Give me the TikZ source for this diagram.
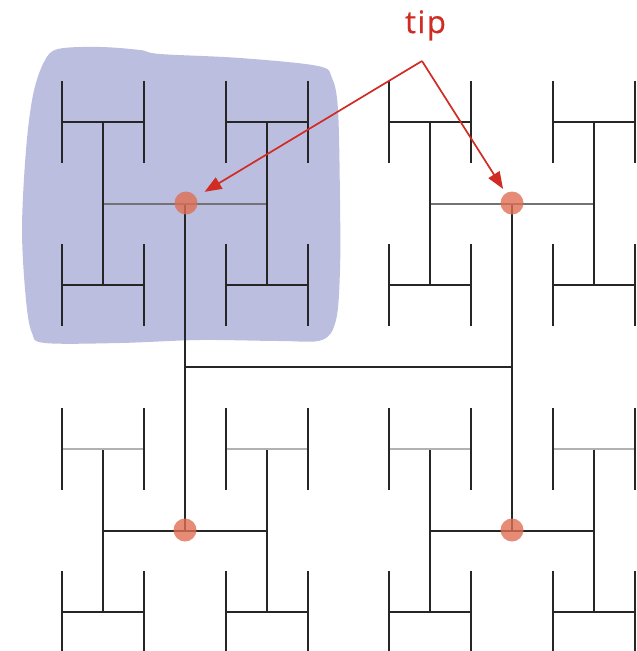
\documentclass[tikz,border=0pt]{standalone}
\usepackage{fontspec}
\newfontfamily\tipfont{Open Sans}[LetterSpace=5, FakeBold=0.6]
\usetikzlibrary{arrows.meta}

\definecolor{blobblue}{RGB}{187,190,222}
\definecolor{tipred}{RGB}{208,44,36}
\definecolor{dotorange}{RGB}{222,110,84}

\begin{document}
\begin{tikzpicture}[x=1pt, y=-1pt,
	hline/.style={line width=2pt, black!85},
	tipdot/.style={circle, fill=dotorange, opacity=0.8, minimum size=23pt, inner sep=0pt},
	pointer/.style={tipred, line width=1.7pt, -{Triangle[length=17pt,width=13pt]}}]

\useasboundingbox (0,0) rectangle (637,651);

% shaded subtree
\fill[blobblue] plot[smooth cycle, tension=0.55] coordinates {
	(58,49) (100,47) (140,50) (160,54) (240,58) (318,66) (332,78) (338,110)
	(340,200) (340,270) (336,320) (322,340) (280,341) (200,340) (120,343)
	(45,343) (32,333) (26,300) (22,230) (26,150) (33,95) (44,62)};

% level 1
\draw[hline] (185,367) -- (512,367);
\draw[hline] (185,203.5) -- (185,530.5);
\draw[hline] (512,203.5) -- (512,530.5);

% level 2 and 3
\foreach \i in {-1,1}
\foreach \j in {-1,1} {
	\pgfmathsetmacro\cx{348.5+\i*163.5}
	\pgfmathsetmacro\cy{367+\j*163.5}
	\pgfmathtruncatemacro\shade{\j<0 ? 55 : 85}
	\draw[hline, black!\shade] (\cx-81.75,\cy) -- (\cx+81.75,\cy);
	\draw[hline] (\cx-81.75,\cy-81.75) -- (\cx-81.75,\cy+81.75);
	\draw[hline] (\cx+81.75,\cy-81.75) -- (\cx+81.75,\cy+81.75);
	\foreach \k in {-1,1}
	\foreach \l in {-1,1} {
		\pgfmathsetmacro\dx{\cx+\k*81.75}
		\pgfmathsetmacro\dy{\cy+\l*81.75}
		\pgfmathtruncatemacro\lite{(\j>0 && \l<0) ? 30 : 85}
		\draw[hline, black!\lite] (\dx-40.9,\dy) -- (\dx+40.9,\dy);
		\draw[hline] (\dx-40.9,\dy-40.9) -- (\dx-40.9,\dy+40.9);
		\draw[hline] (\dx+40.9,\dy-40.9) -- (\dx+40.9,\dy+40.9);
	}
}

\node[tipdot] (tip nw) at (186,203) {};
\node[tipdot] (tip ne) at (512,203) {};
\node[tipdot] (tip sw) at (185,530) {};
\node[tipdot] (tip se) at (512,530) {};

\node[text=tipred, font=\tipfont\fontsize{31}{33}\selectfont, anchor=base] (tip label) at (425.5,33) {tip};
\coordinate (apex) at (422,61);

\path[pointer]	(apex)	edge	[shorten >=10pt]	(tip nw)
				edge	[shorten >=5pt]	(tip ne);

\end{tikzpicture}
\end{document}
